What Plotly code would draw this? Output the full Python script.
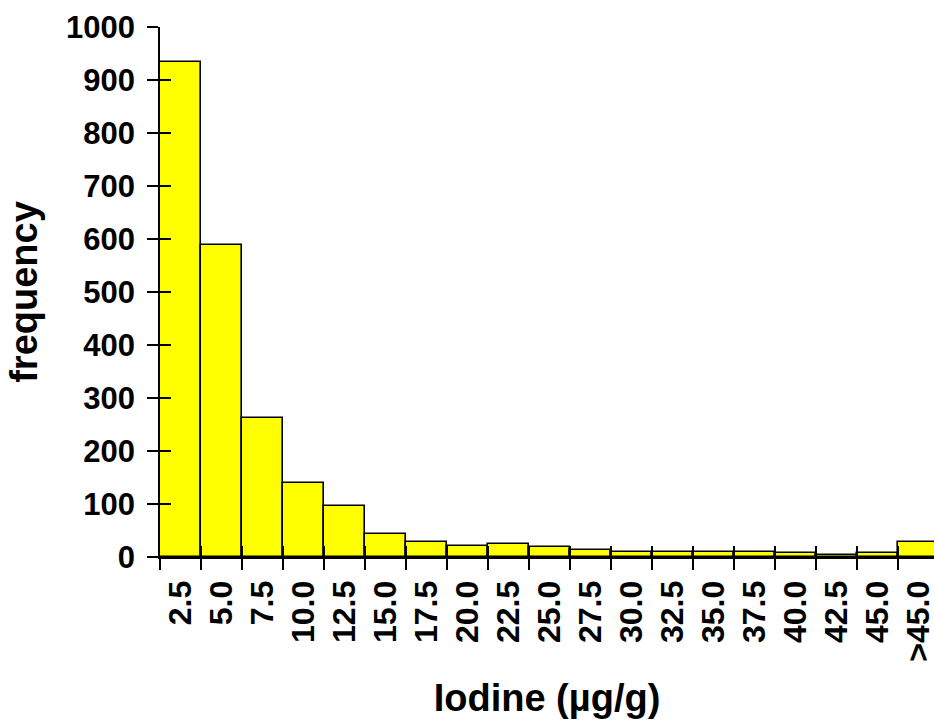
import plotly.graph_objects as go

bins = ["2.5", "5.0", "7.5", "10.0", "12.5", "15.0", "17.5", "20.0", "22.5", "25.0",
        "27.5", "30.0", "32.5", "35.0", "37.5", "40.0", "42.5", "45.0", ">45.0"]
frequency = [934, 589, 262, 140, 97, 44, 28, 21, 25, 18, 14, 10, 10, 10, 10, 7, 3, 7, 29]
y_ticks = [0, 100, 200, 300, 400, 500, 600, 700, 800, 900, 1000]

FONT = "Liberation Sans, Arial, sans-serif"

fig = go.Figure()
fig.add_trace(go.Bar(
    x=bins, y=frequency,
    marker=dict(color="#FFFF00", line=dict(color="black", width=1.6)),
    hoverinfo="x+y",
))
# invisible duplicate used only to carry the inward half of the crossing ticks
fig.add_trace(go.Bar(
    x=bins, y=frequency, xaxis="x2", yaxis="y2",
    marker=dict(color="rgba(0,0,0,0)", line=dict(width=0)),
    hoverinfo="skip", showlegend=False,
))

common_x = dict(
    type="category", categoryarray=bins, range=[-0.5, 18.38],
    tickmode="array", tickvals=bins, ticktext=bins,
    tickson="boundaries", ticklen=11, tickwidth=1.5, tickcolor="black",
    showgrid=False, zeroline=False, automargin=False,
)
common_y = dict(
    range=[0, 1000], tickvals=y_ticks, ticklen=11, tickwidth=1.5, tickcolor="black",
    showgrid=False, zeroline=False, automargin=False,
)

fig.update_layout(
    width=934, height=722,
    margin=dict(l=160, r=0, t=27, b=165),
    paper_bgcolor="white", plot_bgcolor="white",
    bargap=0, showlegend=False,
    font=dict(family=FONT, color="black", size=31, weight="bold"),
    xaxis=dict(
        **common_x, ticks="outside", tickangle=-90,
        showline=True, linecolor="black", linewidth=2,
        ticklabelstandoff=9,
        tickfont=dict(family=FONT, size=32, weight="bold", color="black"),
        title=dict(text="Iodine (µg/g)", standoff=24,
                   font=dict(family=FONT, size=38, weight="bold", color="black")),
    ),
    yaxis=dict(
        **common_y, ticks="outside",
        showline=True, linecolor="black", linewidth=1.5,
        ticklabelstandoff=6,
        tickfont=dict(family=FONT, size=31, weight="bold", color="black"),
        title=dict(text="frequency", standoff=17,
                   font=dict(family=FONT, size=38, weight="bold", color="black")),
    ),
    xaxis2=dict(**common_x, ticks="inside", overlaying="x", showticklabels=False,
                showline=False, matches="x"),
    yaxis2=dict(**common_y, ticks="inside", overlaying="y", showticklabels=False,
                showline=False, matches="y"),
)

fig.write_html(
    "out.html",
    config={"displayModeBar": False},
    post_script="document.body.style.margin='0';document.body.style.overflow='hidden';",
)
